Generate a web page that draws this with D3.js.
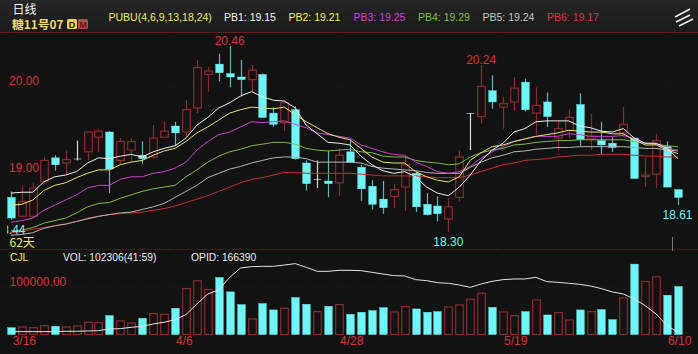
<!DOCTYPE html>
<html><head><meta charset="utf-8">
<style>html,body{margin:0;padding:0;background:#121212;overflow:hidden}svg{display:block}text{font-family:"Liberation Sans",Arial,sans-serif}</style>
<script src="https://cdnjs.cloudflare.com/ajax/libs/d3/7.8.5/d3.min.js"></script>
</head><body><div id="c"></div>
<script>
const open_=[18.70,18.48,18.48,18.89,19.16,19.10,19.15,19.23,19.40,19.46,19.13,19.25,19.19,19.17,19.40,19.53,19.46,19.74,20.13,20.25,20.14,20.10,20.07,20.13,19.68,19.57,19.72,19.10,18.91,18.89,18.87,19.23,19.05,18.83,18.68,18.71,18.82,18.98,18.62,18.60,18.45,18.70,19.68,19.64,19.94,19.75,19.81,20.04,19.68,19.81,19.39,19.48,19.78,19.38,19.36,19.33,19.45,19.39,18.95,18.97,19.29,18.79];
const high_=[18.77,18.84,18.87,19.17,19.19,19.25,19.36,19.47,19.49,19.47,19.39,19.39,19.35,19.54,19.58,19.58,19.83,20.30,20.22,20.37,20.46,20.30,20.24,20.14,19.75,19.83,19.76,19.13,19.13,19.24,19.27,19.37,19.08,18.90,18.89,18.86,19.19,19.00,18.75,18.71,18.69,19.25,19.68,20.24,20.12,19.87,20.10,20.08,19.98,19.92,19.59,19.72,19.91,19.67,19.58,19.40,19.75,19.39,19.16,19.44,19.35,18.79];
const low_=[18.44,18.47,18.46,18.86,19.01,18.96,19.13,19.13,19.23,18.75,19.08,19.11,19.09,19.15,19.39,19.30,19.39,19.68,19.93,20.05,19.98,19.87,19.93,19.63,19.52,19.47,19.14,18.78,18.81,18.70,18.72,19.11,18.66,18.56,18.51,18.58,18.54,18.53,18.49,18.42,18.30,18.65,19.25,19.56,19.73,19.50,19.71,19.70,19.43,19.52,19.24,19.39,19.30,19.25,19.20,19.23,19.40,18.92,18.82,18.81,18.82,18.61];
const close_=[18.46,18.65,18.81,19.13,19.08,19.14,19.15,19.46,19.47,19.03,19.35,19.35,19.15,19.39,19.47,19.45,19.72,20.21,20.17,20.15,20.10,20.07,20.18,19.63,19.55,19.80,19.15,18.86,18.91,18.86,19.19,19.11,18.80,18.62,18.58,18.79,19.08,18.59,18.50,18.51,18.59,19.17,19.68,19.99,19.81,19.79,19.97,19.72,19.77,19.64,19.50,19.63,19.37,19.41,19.31,19.28,19.55,18.92,18.96,19.36,18.82,18.70];
const pb1=[18.75,18.76,18.76,18.88,18.94,18.96,19.00,19.10,19.16,19.15,19.18,19.20,19.17,19.23,19.27,19.30,19.39,19.54,19.63,19.74,19.80,19.88,19.93,19.87,19.83,19.82,19.74,19.54,19.44,19.34,19.33,19.31,19.18,19.08,19.01,18.98,19.00,18.94,18.82,18.75,18.72,18.82,18.96,19.13,19.25,19.33,19.46,19.50,19.58,19.59,19.59,19.59,19.53,19.51,19.47,19.46,19.50,19.39,19.33,19.33,19.27,19.15];
const pb2=[18.61,18.62,18.67,18.78,18.84,18.87,18.93,18.98,19.02,19.02,19.08,19.11,19.13,19.19,19.24,19.27,19.35,19.45,19.52,19.60,19.68,19.72,19.75,19.74,19.73,19.75,19.66,19.58,19.51,19.44,19.40,19.37,19.27,19.17,19.11,19.10,19.10,19.00,18.94,18.90,18.88,18.94,19.13,19.22,19.29,19.31,19.35,19.38,19.41,19.43,19.45,19.48,19.47,19.46,19.46,19.44,19.44,19.37,19.31,19.31,19.25,19.21];
const pb3=[18.41,18.43,18.46,18.55,18.61,18.67,18.73,18.81,18.84,18.84,18.91,18.94,18.94,18.98,19.00,19.04,19.11,19.25,19.35,19.43,19.46,19.52,19.58,19.57,19.58,19.59,19.55,19.51,19.45,19.43,19.41,19.39,19.31,19.27,19.23,19.20,19.19,19.11,19.06,19.00,18.98,19.00,19.06,19.16,19.23,19.29,19.35,19.38,19.41,19.41,19.41,19.44,19.43,19.41,19.41,19.41,19.42,19.38,19.33,19.32,19.27,19.25];
const pb4=[18.31,18.32,18.35,18.40,18.43,18.46,18.52,18.59,18.63,18.64,18.69,18.73,18.77,18.80,18.82,18.84,18.94,19.02,19.11,19.18,19.23,19.26,19.30,19.32,19.34,19.34,19.32,19.27,19.25,19.24,19.25,19.26,19.23,19.22,19.18,19.17,19.17,19.13,19.11,19.10,19.08,19.09,19.17,19.22,19.25,19.27,19.31,19.32,19.34,19.35,19.36,19.36,19.37,19.37,19.37,19.37,19.37,19.35,19.33,19.32,19.30,19.29];
const pb5=[18.26,18.27,18.29,18.34,18.37,18.39,18.42,18.45,18.48,18.50,18.52,18.53,18.56,18.59,18.63,18.70,18.77,18.84,18.93,18.98,19.03,19.06,19.10,19.13,19.16,19.17,19.17,19.15,19.11,19.11,19.11,19.11,19.10,19.06,19.04,19.03,19.02,19.01,18.99,18.98,18.98,18.98,19.05,19.11,19.16,19.19,19.23,19.24,19.26,19.27,19.28,19.28,19.29,19.29,19.29,19.29,19.29,19.28,19.27,19.27,19.25,19.24];
const pb6=[18.29,18.30,18.33,18.35,18.37,18.39,18.42,18.46,18.48,18.50,18.51,18.52,18.53,18.55,18.57,18.60,18.64,18.68,18.72,18.77,18.82,18.87,18.91,18.93,18.96,18.99,18.99,18.98,18.98,18.98,18.98,18.98,18.97,18.96,18.95,18.95,18.95,18.95,18.94,18.93,18.93,18.93,18.96,19.00,19.04,19.08,19.10,19.13,19.14,19.15,19.17,19.18,19.19,19.19,19.20,19.20,19.20,19.19,19.18,19.18,19.17,19.17];
const volume=[14600,16000,14600,18900,17500,16000,18200,26000,25300,40300,28900,24600,34600,44600,43100,56000,98000,114400,95900,121600,90900,63800,33200,66000,52400,56000,78800,64500,48800,60200,63800,43100,47400,51000,57400,48100,59500,54500,47400,48800,58800,63100,75200,88000,58100,48100,40300,48800,73800,41700,46700,31000,52400,48800,53100,31700,78100,150100,113000,123000,83800,102306];
const opid=[168000,168000,168000,168000,168000,168800,168800,169600,170400,174400,175200,178400,180800,186400,190400,196800,208800,234400,258400,268000,298400,320800,324000,324800,324800,328000,331200,322400,312800,312800,315200,315200,314400,310400,306400,302400,301600,292800,290400,285600,284000,280000,274400,282400,288800,292800,294400,294400,298400,288000,286400,284000,281600,277600,271200,263200,258400,246400,230400,210400,182400,166390];
const priceTicks=[20,19];
const dateIdx=[0,15,30,45,60];
const dateLabels=["3/16","4/6","4/28","5/19","6/10"];
const pbNames=["PB1: 19.15","PB2: 19.21","PB3: 19.25","PB4: 19.29","PB5: 19.24","PB6: 19.17"];
const pbColors=["#efefef","#e8e26c","#c93fd4","#76bd48","#b4b4b4","#c82a2a"];
const pbTextColors=["#f2f2f2","#efe96a","#d23fdc","#79c548","#c4c4c4","#e03434"];

const W=698,H=354;
const RED="#d93232",DRED="#8c2a2a",CY="#6ff4f8",CYW="#5fb3b8";
const svg=d3.select("#c").append("svg").attr("width",W).attr("height",H);
const x=d3.scaleLinear().domain([0,61]).range([11,678]);
const y=d3.scaleLinear().domain([20,19]).range([85.6,171.6]);
const yv=d3.scaleLinear().domain([0,100000]).range([334.5,287.6]);
const yo=d3.scaleLinear().domain([166390,378390]).range([332.3,244]);

svg.append("rect").attr("width",W).attr("height",H).attr("fill","#121212");
const defs=svg.append("defs");
const g=defs.append("linearGradient").attr("id","hd").attr("x1",0).attr("x2",0).attr("y1",0).attr("y2",1);
g.append("stop").attr("offset",0).attr("stop-color","#262626");
g.append("stop").attr("offset",1).attr("stop-color","#1a1a1a");
svg.append("rect").attr("width",W).attr("height",32).attr("fill","url(#hd)");
svg.append("rect").attr("y",32).attr("width",W).attr("height",1).attr("fill","#6a1a1a");
svg.append("rect").attr("y",249).attr("width",W).attr("height",1).attr("fill","#4a1616");

// grid
const gridC="#2a1616";
svg.selectAll(".gv").data(dateIdx).join("line").attr("x1",d=>x(d)-.5).attr("x2",d=>x(d)-.5).attr("y1",33).attr("y2",334)
 .attr("stroke",gridC).attr("stroke-dasharray","1 2");
svg.selectAll(".gh").data(priceTicks).join("line").attr("x1",0).attr("x2",W).attr("y1",d=>y(d)+.5).attr("y2",d=>y(d)+.5)
 .attr("stroke",gridC).attr("stroke-dasharray","1 2");
svg.append("line").attr("x1",0).attr("x2",W).attr("y1",yv(100000)-.5).attr("y2",yv(100000)-.5).attr("stroke",gridC).attr("stroke-dasharray","1 2");

const idx=d3.range(62), bw=7.6;
const isUp=i=>close_[i]>=open_[i];
const isDoji=i=>close_[i]===open_[i];
// wicks
svg.selectAll(".w").data(idx).join("line").attr("x1",i=>Math.round(x(i))+.5).attr("x2",i=>Math.round(x(i))+.5)
 .attr("y1",i=>y(high_[i])).attr("y2",i=>y(low_[i]))
 .attr("stroke",i=>isDoji(i)?"#d8d8d8":isUp(i)?DRED:CYW).attr("stroke-width",1.2);
// bodies
svg.selectAll(".b").data(idx).join("rect")
 .attr("x",i=>Math.round(x(i))+.5-bw/2)
 .attr("y",i=>y(Math.max(open_[i],close_[i])))
 .attr("width",bw)
 .attr("height",i=>Math.max(isDoji(i)?.6:1.5,Math.abs(y(open_[i])-y(close_[i]))))
 .attr("fill",i=>isDoji(i)?"#e8e8e8":isUp(i)?"#121212":CY)
 .attr("stroke",i=>isDoji(i)?"none":isUp(i)?DRED:CY)
 .attr("stroke-width",i=>isUp(i)?1.2:.4);
// lines
const ln=arr=>d3.line().x((d,i)=>x(i)).y(d=>y(d))(arr);
[[pb6,5],[pb5,4],[pb4,3],[pb3,2],[pb2,1],[pb1,0]].forEach(([a,c])=>{
 svg.append("path").attr("d",ln(a)).attr("fill","none").attr("stroke",pbColors[c]).attr("stroke-width",1).attr("stroke-linejoin","round");
});
// volume bars
svg.selectAll(".v").data(idx).join("rect")
 .attr("x",i=>Math.round(x(i))+.5-bw/2)
 .attr("y",i=>yv(volume[i]))
 .attr("width",bw)
 .attr("height",i=>yv(0)-yv(volume[i]))
 .attr("fill",i=>isUp(i)?"#121212":CY)
 .attr("stroke",i=>isUp(i)?DRED:CY)
 .attr("stroke-width",i=>isUp(i)?1.2:.4);
svg.append("path").attr("d",d3.line().x((d,i)=>x(i)).y(d=>yo(d))(opid)).attr("fill","none").attr("stroke","#e2e2e2").attr("stroke-width",1);
// grey marker
svg.append("line").attr("x1",672.5).attr("x2",672.5).attr("y1",237).attr("y2",251).attr("stroke","#777");

const T=(s,px,py,fs,col,anchor)=>svg.append("text").attr("x",px).attr("y",py).attr("font-size",fs).attr("fill",col).attr("text-anchor",anchor||"start").text(s);
// header
T("日线",12.5,13.5,12,"#f4f4f4").style("font-family",'"Noto Sans CJK SC"');
T("糖11号07",12,28.5,11.8,"#efd96a").attr("font-weight","bold").style("font-family",'"Noto Sans CJK SC"');
svg.append("rect").attr("x",67).attr("y",19).attr("width",10).attr("height",10).attr("rx",1.5).attr("fill","#e8d24a");
T("D",72,27.5,9,"#222","middle").attr("font-weight","bold");
svg.append("rect").attr("x",78).attr("y",19).attr("width",10).attr("height",10).attr("rx",1.5).attr("fill","#b84a4a");
T("M",83,27.5,9,"#5a1a1a","middle").attr("font-weight","bold");
T("PUBU(4,6,9,13,18,24)",108.5,21,10.5,"#efe96a");
const pbx=[224,288.5,353.5,418,482.5,547];
pbNames.forEach((s,i)=>T(s,pbx[i],21,10.5,pbTextColors[i]));
// icon
[[675,17,690,9],[676,22,690,15],[679,26,693,19]].forEach(s=>svg.append("line").attr("x1",s[0]).attr("y1",s[1]).attr("x2",s[2]).attr("y2",s[3]).attr("stroke","#e8e8e8").attr("stroke-width",1.6));
// axis labels
priceTicks.forEach(p=>T(p.toFixed(2),9,y(p)-(p==20?.5:0),12,RED));
T("20.46",x(20),45,12,RED,"middle");
T("20.24",x(43),64,12,RED,"middle");
T("18.30",x(40),246,12,CY,"middle");
T("18.61",x(61)-.5,219,12,CY,"middle");
defs.append("clipPath").attr("id","cl").append("rect").attr("x",7).attr("y",220).attr("width",40).attr("height",20);
T("18.44",-4.5,234,12,CY).attr("clip-path","url(#cl)");
T("62天",9.5,246.5,12,"#efe96a").style("font-family",'"Noto Sans CJK SC"');
// volume header
T("CJL",10,261,10.3,"#efe96a");
T("VOL: 102306(41:59)",63,261,10.3,"#eeeeee");
T("OPID: 166390",191,261,10.3,"#eeeeee");
T("100000.00",9.5,286,12,RED);
dateIdx.forEach((d,i)=>T(dateLabels[i],x(d)+(i==0?1.7:1),345,12,RED));
</script>
</body></html>
